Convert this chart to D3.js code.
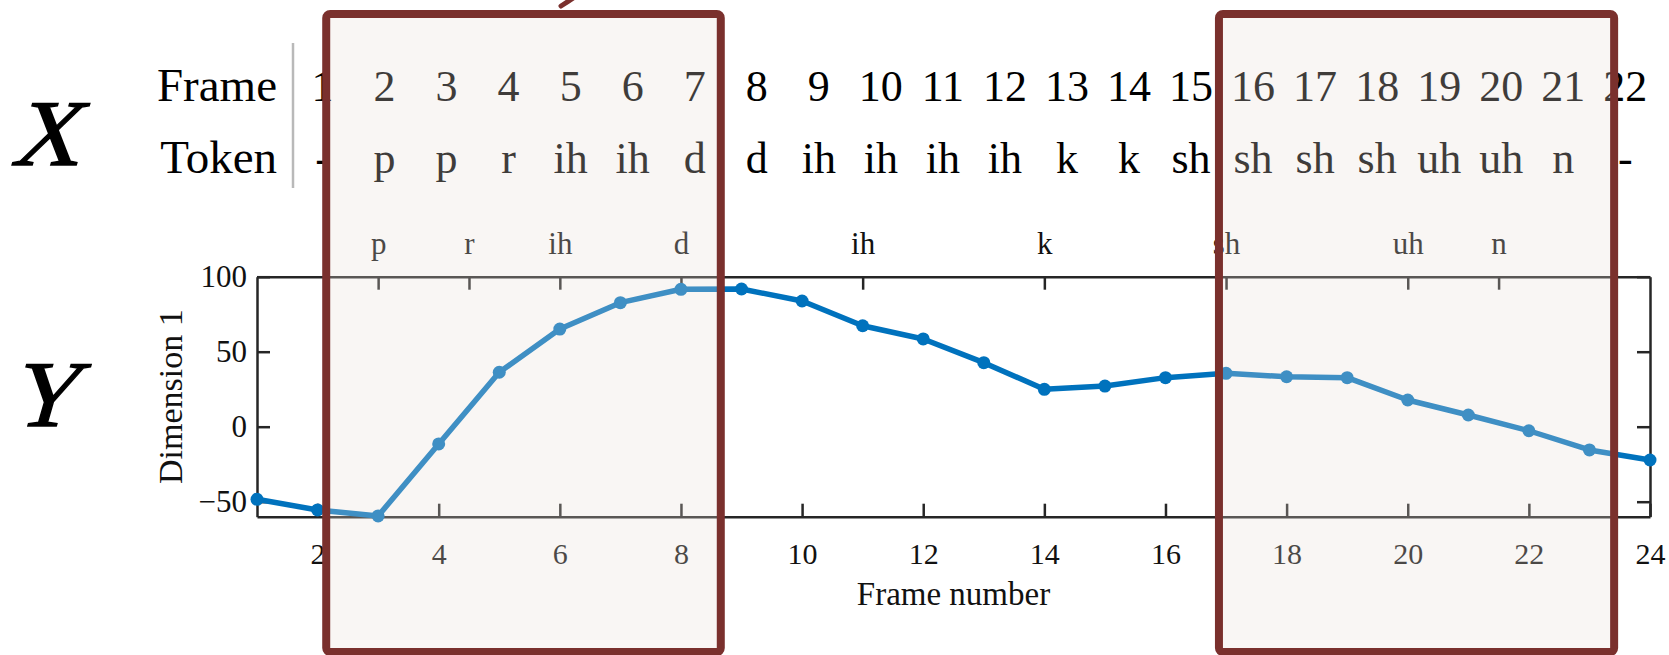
<!DOCTYPE html>
<html>
<head>
<meta charset="utf-8">
<script src="https://cdn.jsdelivr.net/npm/d3@7/dist/d3.min.js"></script>
<style>
  html, body { margin: 0; padding: 0; background: #ffffff; }
  svg { display: block; }
  text { font-family: "Liberation Serif", "Times New Roman", Times, serif; }
</style>
</head>
<body>
<svg id="chart" width="1669" height="655"></svg>
<script>
// Frame / token table shown above the plot
const tableFrames = [1, 2, 3, 4, 5, 6, 7, 8, 9, 10, 11, 12, 13, 14, 15, 16, 17, 18, 19, 20, 21, 22];
const tableTokens = ["-", "p", "p", "r", "ih", "ih", "d", "d", "ih", "ih", "ih", "ih",
                     "k", "k", "sh", "sh", "sh", "sh", "uh", "uh", "n", "-"];

// Plotted series: Dimension 1 per frame number
const frameNumbers = [1, 2, 3, 4, 5, 6, 7, 8, 9, 10, 11, 12, 13, 14, 15, 16, 17, 18, 19, 20, 21, 22, 23, 24];
const dimension1 = [-48.4, -55.5, -59.5, -11.5, 36.3, 65.1, 82.7, 91.6, 91.8, 83.8, 67.3, 58.5,
                    42.7, 24.9, 27.1, 32.7, 35.6, 33.3, 32.7, 17.8, 7.8, -2.7, -15.5, -22.2];

// Axis ticks
const xTicks = [2, 4, 6, 8, 10, 12, 14, 16, 18, 20, 22, 24];
const yTicks = [-50, 0, 50, 100];
const tokenTickPositions = [3, 4.5, 6, 8, 11, 14, 17, 20, 21.5];
const tokenTickLabels = ["p", "r", "ih", "d", "ih", "k", "sh", "uh", "n"];

// Highlighted frame spans (in table-column units)
const highlightStart = [1.06, 15.45];
const highlightEnd = [7.42, 21.82];

const svg = d3.select("#chart");
const FONT = '"Liberation Serif", "Times New Roman", Times, serif';
const AXIS = "#262626";

const plot = { left: 257, right: 1650, top: 276.7, bottom: 516.7 };

const x = d3.scaleLinear().domain([1, 24]).range([plot.left, plot.right]);
const y = d3.scaleLinear().domain([-60, 100]).range([plot.bottom, plot.top]);

// Column positions for the table
const col = d3.scaleLinear().domain([1, 22]).range([322.5, 1625.3]);

function styleAxis(g, fontSize) {
  g.attr("font-family", FONT).attr("font-size", fontSize);
  g.select(".domain").attr("stroke", AXIS).attr("stroke-width", 2.5);
  g.selectAll(".tick line").attr("stroke", AXIS).attr("stroke-width", 2.5);
  g.selectAll(".tick text").attr("fill", "#111");
}

// Bottom axis: frame number
const gBottom = svg.append("g")
  .attr("transform", `translate(0,${plot.bottom})`)
  .call(d3.axisBottom(x).tickValues(xTicks).tickSizeInner(-13).tickSizeOuter(0).tickPadding(26));
styleAxis(gBottom, 30);

// Top axis: token labels
const gTop = svg.append("g")
  .attr("transform", `translate(0,${plot.top})`)
  .call(d3.axisTop(x).tickValues(tokenTickPositions)
    .tickFormat((d, i) => tokenTickLabels[i])
    .tickSizeInner(-13).tickSizeOuter(0).tickPadding(23));
styleAxis(gTop, 31);

// Left axis
const gLeft = svg.append("g")
  .attr("transform", `translate(${plot.left},0)`)
  .call(d3.axisLeft(y).tickValues(yTicks).tickSizeInner(-13).tickSizeOuter(0).tickPadding(10));
styleAxis(gLeft, 31);

// Right axis (ticks only)
const gRight = svg.append("g")
  .attr("transform", `translate(${plot.right},0)`)
  .call(d3.axisRight(y).tickValues(yTicks).tickFormat("").tickSizeInner(-13).tickSizeOuter(0));
styleAxis(gRight, 31);

// Axis titles
svg.append("text")
  .attr("x", (plot.left + plot.right) / 2)
  .attr("y", 605)
  .attr("text-anchor", "middle")
  .attr("font-size", 33)
  .attr("fill", "#111")
  .text("Frame number");

svg.append("text")
  .attr("transform", `translate(182,${(plot.top + plot.bottom) / 2}) rotate(-90)`)
  .attr("text-anchor", "middle")
  .attr("font-size", 34)
  .attr("fill", "#111")
  .text("Dimension 1");

// Series line and markers
const line = d3.line()
  .x((d, i) => x(frameNumbers[i]))
  .y(d => y(d));

svg.append("path")
  .datum(dimension1)
  .attr("d", line)
  .attr("fill", "none")
  .attr("stroke", "#0072BD")
  .attr("stroke-width", 5.5)
  .attr("stroke-linejoin", "round");

svg.append("g")
  .selectAll("circle")
  .data(dimension1)
  .join("circle")
  .attr("cx", (d, i) => x(frameNumbers[i]))
  .attr("cy", d => y(d))
  .attr("r", 6.5)
  .attr("fill", "#0072BD");

// Row headers and separator
svg.append("text")
  .attr("x", 277).attr("y", 101)
  .attr("text-anchor", "end")
  .attr("font-size", 47)
  .attr("fill", "#000")
  .text("Frame");

svg.append("text")
  .attr("x", 277).attr("y", 173)
  .attr("text-anchor", "end")
  .attr("font-size", 47)
  .attr("fill", "#000")
  .text("Token");

svg.append("line")
  .attr("x1", 293).attr("x2", 293)
  .attr("y1", 43).attr("y2", 188)
  .attr("stroke", "#b9b9b9")
  .attr("stroke-width", 2.5);

// Table cells
svg.append("g")
  .selectAll("text")
  .data(tableFrames)
  .join("text")
  .attr("x", d => col(d))
  .attr("y", 101)
  .attr("text-anchor", "middle")
  .attr("font-size", 44)
  .attr("fill", "#000")
  .text(d => d);

svg.append("g")
  .selectAll("text")
  .data(tableTokens)
  .join("text")
  .attr("x", (d, i) => col(tableFrames[i]))
  .attr("y", 173)
  .attr("text-anchor", "middle")
  .attr("font-size", 44)
  .attr("fill", "#000")
  .text(d => d);

// Side labels X and Y (slanted serif capitals)
svg.append("text")
  .attr("transform", "translate(44,165) skewX(-16)")
  .attr("text-anchor", "middle")
  .attr("font-size", 94)
  .attr("fill", "#000")
  .attr("stroke", "#000")
  .attr("stroke-width", 1.5)
  .text("X");

svg.append("text")
  .attr("transform", "translate(42,426) skewX(-16)")
  .attr("text-anchor", "middle")
  .attr("font-size", 94)
  .attr("fill", "#000")
  .attr("stroke", "#000")
  .attr("stroke-width", 1.5)
  .text("Y");

// Arrow tip entering from the top edge
svg.append("path")
  .attr("d", "M576,-4 Q569,1 561,6")
  .attr("fill", "none")
  .attr("stroke", "#7A302D")
  .attr("stroke-width", 5)
  .attr("stroke-linecap", "round");

// Highlight frames drawn over everything
svg.append("g")
  .selectAll("rect")
  .data(highlightStart)
  .join("rect")
  .attr("x", (d, i) => col(d))
  .attr("y", 14)
  .attr("width", (d, i) => col(highlightEnd[i]) - col(d))
  .attr("height", 638)
  .attr("rx", 4)
  .attr("fill", "rgba(232,220,216,0.27)")
  .attr("stroke", "#7A302D")
  .attr("stroke-width", 8);
</script>
</body>
</html>
